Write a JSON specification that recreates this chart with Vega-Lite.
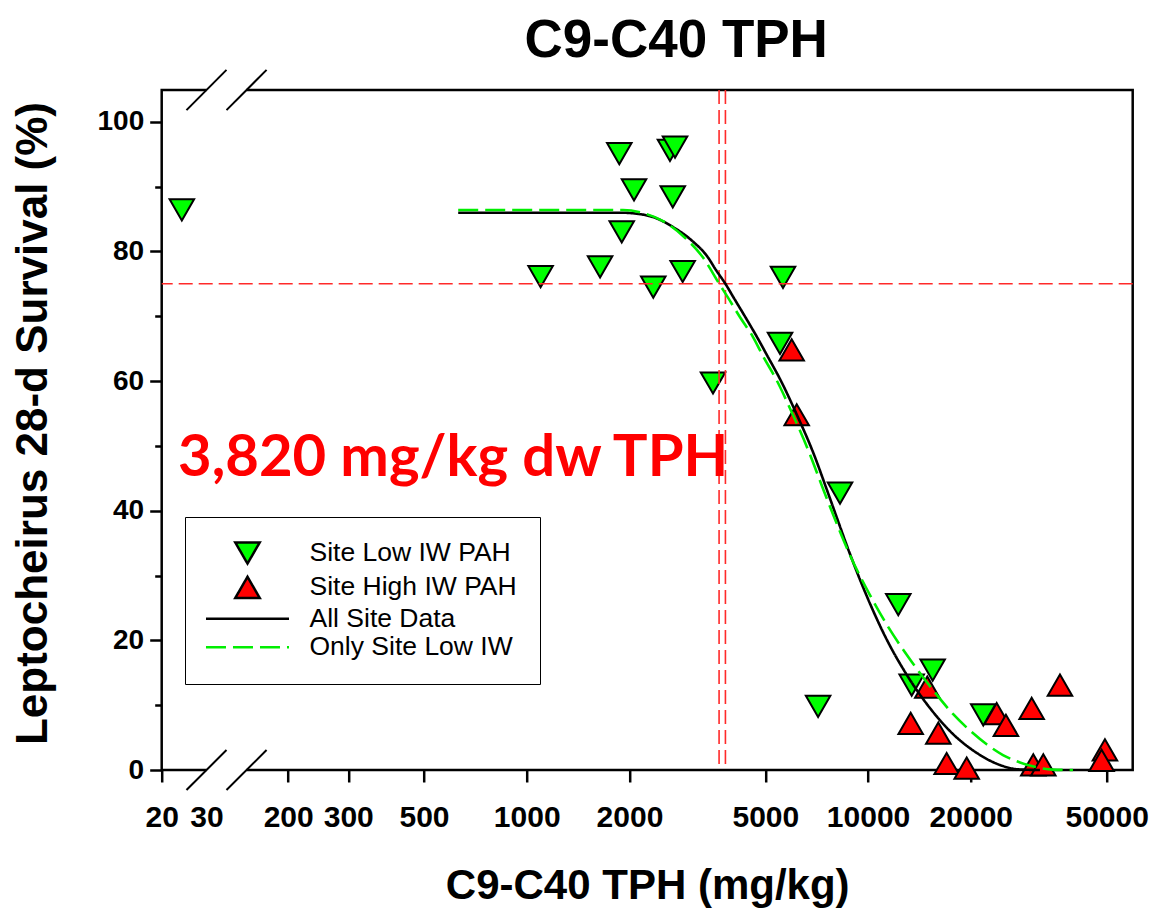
{
  "$schema": "https://vega.github.io/schema/vega-lite/v6.json",
  "width": 971,
  "height": 680,
  "autosize": {"type": "none"},
  "padding": {"left": 161.7, "top": 90, "right": 20.3, "bottom": 138},
  "background": "white",
  "title": {"text": "C9-C40 TPH", "font": "Liberation Sans", "fontWeight": "bold", "fontSize": 53, "color": "black", "anchor": "middle", "dx": 29, "dy": 23, "offset": 24},
  "config": {"view": {"stroke": "black", "strokeWidth": 2.5}, "font": "Liberation Sans"},
  "datasets": {
    "points": [
      {"series": "Site Low IW PAH", "tph": 24, "survival": 86.4},
      {"series": "Site Low IW PAH", "tph": 1098, "survival": 76.1},
      {"series": "Site Low IW PAH", "tph": 1640, "survival": 77.6},
      {"series": "Site Low IW PAH", "tph": 1867, "survival": 95.1},
      {"series": "Site Low IW PAH", "tph": 1898, "survival": 83.0},
      {"series": "Site Low IW PAH", "tph": 2062, "survival": 89.5},
      {"series": "Site Low IW PAH", "tph": 2348, "survival": 74.5},
      {"series": "Site Low IW PAH", "tph": 2628, "survival": 95.6},
      {"series": "Site Low IW PAH", "tph": 2719, "survival": 96.1},
      {"series": "Site Low IW PAH", "tph": 2678, "survival": 88.4},
      {"series": "Site Low IW PAH", "tph": 2863, "survival": 76.9},
      {"series": "Site Low IW PAH", "tph": 3513, "survival": 59.7},
      {"series": "Site Low IW PAH", "tph": 5521, "survival": 65.8},
      {"series": "Site Low IW PAH", "tph": 5633, "survival": 76.0},
      {"series": "Site Low IW PAH", "tph": 8275, "survival": 42.7},
      {"series": "Site Low IW PAH", "tph": 7138, "survival": 9.8},
      {"series": "Site Low IW PAH", "tph": 12260, "survival": 25.5},
      {"series": "Site Low IW PAH", "tph": 13420, "survival": 13.1},
      {"series": "Site Low IW PAH", "tph": 15460, "survival": 15.4},
      {"series": "Site Low IW PAH", "tph": 21750, "survival": 8.5},
      {"series": "Site High IW PAH", "tph": 5973, "survival": 64.8},
      {"series": "Site High IW PAH", "tph": 6179, "survival": 54.8},
      {"series": "Site High IW PAH", "tph": 14910, "survival": 12.8},
      {"series": "Site High IW PAH", "tph": 13330, "survival": 7.2},
      {"series": "Site High IW PAH", "tph": 16060, "survival": 5.7},
      {"series": "Site High IW PAH", "tph": 16990, "survival": 1.0},
      {"series": "Site High IW PAH", "tph": 19450, "survival": 0.3},
      {"series": "Site High IW PAH", "tph": 23810, "survival": 8.7},
      {"series": "Site High IW PAH", "tph": 25340, "survival": 6.9},
      {"series": "Site High IW PAH", "tph": 30150, "survival": 9.5},
      {"series": "Site High IW PAH", "tph": 36490, "survival": 13.1},
      {"series": "Site High IW PAH", "tph": 30480, "survival": 0.8},
      {"series": "Site High IW PAH", "tph": 32610, "survival": 0.8},
      {"series": "Site High IW PAH", "tph": 49420, "survival": 3.1},
      {"series": "Site High IW PAH", "tph": 48320, "survival": 1.5}
    ],
    "curves": [
      {"series": "All Site Data", "tph": 629.8, "survival": 85.96},
      {"series": "All Site Data", "tph": 1915, "survival": 85.96},
      {"series": "All Site Data", "tph": 2120, "survival": 85.79},
      {"series": "All Site Data", "tph": 2344, "survival": 85.3},
      {"series": "All Site Data", "tph": 2683, "survival": 83.76},
      {"series": "All Site Data", "tph": 3069, "survival": 81.52},
      {"series": "All Site Data", "tph": 3374, "survival": 79.28},
      {"series": "All Site Data", "tph": 3585, "survival": 77.12},
      {"series": "All Site Data", "tph": 3820, "survival": 75.0},
      {"series": "All Site Data", "tph": 4020, "survival": 73.04},
      {"series": "All Site Data", "tph": 4360, "survival": 69.95},
      {"series": "All Site Data", "tph": 4727, "survival": 66.79},
      {"series": "All Site Data", "tph": 5091, "survival": 63.71},
      {"series": "All Site Data", "tph": 5521, "survival": 60.31},
      {"series": "All Site Data", "tph": 6190, "survival": 54.76},
      {"series": "All Site Data", "tph": 6896, "survival": 49.05},
      {"series": "All Site Data", "tph": 7578, "survival": 43.19},
      {"series": "All Site Data", "tph": 8107, "survival": 38.87},
      {"series": "All Site Data", "tph": 8851, "survival": 33.32},
      {"series": "All Site Data", "tph": 9662, "survival": 28.23},
      {"series": "All Site Data", "tph": 11360, "survival": 20.05},
      {"series": "All Site Data", "tph": 12993, "survival": 14.65},
      {"series": "All Site Data", "tph": 15177, "survival": 9.56},
      {"series": "All Site Data", "tph": 17731, "survival": 5.55},
      {"series": "All Site Data", "tph": 20840, "survival": 2.62},
      {"series": "All Site Data", "tph": 24340, "survival": 0.77},
      {"series": "All Site Data", "tph": 27860, "survival": 0.08},
      {"series": "All Site Data", "tph": 31880, "survival": 0},
      {"series": "Only Site Low IW", "tph": 629.8, "survival": 86.38},
      {"series": "Only Site Low IW", "tph": 1915, "survival": 86.38},
      {"series": "Only Site Low IW", "tph": 2191, "survival": 85.92},
      {"series": "Only Site Low IW", "tph": 2508, "survival": 84.68},
      {"series": "Only Site Low IW", "tph": 2870, "survival": 82.37},
      {"series": "Only Site Low IW", "tph": 3285, "survival": 79.05},
      {"series": "Only Site Low IW", "tph": 3664, "survival": 75.0},
      {"series": "Only Site Low IW", "tph": 3887, "survival": 72.87},
      {"series": "Only Site Low IW", "tph": 4230, "survival": 69.72},
      {"series": "Only Site Low IW", "tph": 4585, "survival": 66.94},
      {"series": "Only Site Low IW", "tph": 4938, "survival": 63.71},
      {"series": "Only Site Low IW", "tph": 5374, "survival": 60.31},
      {"series": "Only Site Low IW", "tph": 6026, "survival": 54.76},
      {"series": "Only Site Low IW", "tph": 6713, "survival": 49.05},
      {"series": "Only Site Low IW", "tph": 7402, "survival": 43.19},
      {"series": "Only Site Low IW", "tph": 7972, "survival": 38.87},
      {"series": "Only Site Low IW", "tph": 8821, "survival": 33.32},
      {"series": "Only Site Low IW", "tph": 10129, "survival": 26.99},
      {"series": "Only Site Low IW", "tph": 11360, "survival": 22.37},
      {"series": "Only Site Low IW", "tph": 12993, "survival": 17.74},
      {"series": "Only Site Low IW", "tph": 14183, "survival": 14.96},
      {"series": "Only Site Low IW", "tph": 15916, "survival": 11.57},
      {"series": "Only Site Low IW", "tph": 17731, "survival": 8.64},
      {"series": "Only Site Low IW", "tph": 19882, "survival": 6.09},
      {"series": "Only Site Low IW", "tph": 22300, "survival": 3.93},
      {"series": "Only Site Low IW", "tph": 24840, "survival": 2.31},
      {"series": "Only Site Low IW", "tph": 27860, "survival": 1.16},
      {"series": "Only Site Low IW", "tph": 31240, "survival": 0.42},
      {"series": "Only Site Low IW", "tph": 34800, "survival": 0.06},
      {"series": "Only Site Low IW", "tph": 39830, "survival": 0}
    ],
    "ec25": [{"tph": 3660}, {"tph": 3820}],
    "level": [{"survival": 75}]
  },
  "layer": [
    {
      "data": {"name": "points"},
      "mark": {"type": "point", "filled": true, "size": 600, "stroke": "black", "strokeWidth": 2, "opacity": 1},
      "encoding": {
        "x": {
          "field": "tph", "type": "quantitative",
          "scale": {"type": "log", "domain": [20, 30, 151, 59600], "range": [0, 44.8, 84.8, 971], "nice": false, "zero": false},
          "axis": {
            "values": [20, 30, 200, 300, 500, 1000, 2000, 5000, 10000, 20000, 50000],
            "format": "d", "domain": false, "grid": false,
            "tickSize": 12, "tickWidth": 2.5, "tickColor": "black",
            "tickOpacity": {"condition": {"test": "datum.value === 30", "value": 0}, "value": 1},
            "labelFont": "Liberation Sans", "labelFontWeight": "bold", "labelFontSize": 30, "labelColor": "black",
            "labelPadding": 20, "labelFlush": false, "labelOverlap": false,
            "title": "C9-C40 TPH (mg/kg)", "titleFont": "Liberation Sans", "titleFontWeight": "bold", "titleFontSize": 42, "titleColor": "black", "titlePadding": 33
          }
        },
        "y": {
          "field": "survival", "type": "quantitative",
          "scale": {"domain": [0, 104.9], "nice": false, "zero": false},
          "axis": {
            "values": [0, 10, 20, 30, 40, 50, 60, 70, 80, 90, 100],
            "labelExpr": "datum.value % 20 === 0 ? datum.label : ''",
            "domain": false, "grid": false,
            "tickSize": {"condition": {"test": "datum.value % 20 === 0", "value": 12}, "value": 7},
            "tickWidth": 2.5, "tickColor": "black",
            "labelFont": "Liberation Sans", "labelFontWeight": "bold", "labelFontSize": 28, "labelColor": "black", "labelPadding": 6,
            "title": "Leptocheirus 28-d Survival (%)", "titleFont": "Liberation Sans", "titleFontWeight": "bold", "titleFontSize": 44, "titleColor": "black", "titlePadding": 41, "titleY": 333
          }
        },
        "fill": {
          "field": "series", "type": "nominal",
          "scale": {"domain": ["Site Low IW PAH", "Site High IW PAH", "All Site Data", "Only Site Low IW"], "range": ["#00ff00", "#ff0000", "transparent", "transparent"]},
          "legend": {
            "title": null, "orient": "none", "legendX": 23.3, "legendY": 427,
            "padding": 22.5, "symbolOffset": 26.5, "labelOffset": 48.5, "rowPadding": 1.4,
            "symbolSize": 600, "symbolStrokeWidth": 2.5,
            "labelFont": "Liberation Sans", "labelFontSize": 26.5, "labelColor": "black", "labelLimit": 400,
            "strokeColor": "black", "fillColor": "white",
            "encode": {"legend": {"strokeWidth": {"value": 2}}}
          }
        },
        "shape": {
          "field": "series", "type": "nominal",
          "scale": {"domain": ["Site Low IW PAH", "Site High IW PAH", "All Site Data", "Only Site Low IW"], "range": ["triangle-down", "triangle-up", "M-3.39,0L3.39,0", "M-3.39,0L3.39,0"]},
          "legend": {
            "title": null, "orient": "none", "legendX": 23.3, "legendY": 427,
            "padding": 22.5, "symbolOffset": 26.5, "labelOffset": 48.5, "rowPadding": 1.4,
            "symbolSize": 600, "symbolStrokeWidth": 2.5,
            "labelFont": "Liberation Sans", "labelFontSize": 26.5, "labelColor": "black", "labelLimit": 400,
            "strokeColor": "black", "fillColor": "white",
            "encode": {"legend": {"strokeWidth": {"value": 2}}}
          }
        }
      }
    },
    {
      "data": {"name": "ec25"},
      "mark": {"type": "rule", "color": "#ff2a2a", "strokeWidth": 1.6, "strokeDash": [14, 6]},
      "encoding": {"x": {"field": "tph", "type": "quantitative"}}
    },
    {
      "data": {"name": "level"},
      "mark": {"type": "rule", "color": "#ff2a2a", "strokeWidth": 1.6, "strokeDash": [14, 6]},
      "encoding": {"y": {"field": "survival", "type": "quantitative"}}
    },
    {
      "data": {"name": "curves"},
      "mark": {"type": "line", "strokeWidth": 2.6, "interpolate": "monotone"},
      "encoding": {
        "x": {"field": "tph", "type": "quantitative"},
        "y": {"field": "survival", "type": "quantitative"},
        "stroke": {
          "field": "series", "type": "nominal",
          "scale": {"domain": ["Site Low IW PAH", "Site High IW PAH", "All Site Data", "Only Site Low IW"], "range": ["#000000", "#000000", "#000000", "#00ee00"]},
          "legend": {
            "title": null, "orient": "none", "legendX": 23.3, "legendY": 427,
            "padding": 22.5, "symbolOffset": 26.5, "labelOffset": 48.5, "rowPadding": 1.4,
            "symbolSize": 600, "symbolStrokeWidth": 2.5,
            "labelFont": "Liberation Sans", "labelFontSize": 26.5, "labelColor": "black", "labelLimit": 400,
            "strokeColor": "black", "fillColor": "white",
            "encode": {"legend": {"strokeWidth": {"value": 2}}}
          }
        },
        "strokeDash": {
          "field": "series", "type": "nominal",
          "scale": {"domain": ["Site Low IW PAH", "Site High IW PAH", "All Site Data", "Only Site Low IW"], "range": [[1, 0], [1, 0], [1, 0], [20, 7]]},
          "legend": {
            "title": null, "orient": "none", "legendX": 23.3, "legendY": 427,
            "padding": 22.5, "symbolOffset": 26.5, "labelOffset": 48.5, "rowPadding": 1.4,
            "symbolSize": 600, "symbolStrokeWidth": 2.5,
            "labelFont": "Liberation Sans", "labelFontSize": 26.5, "labelColor": "black", "labelLimit": 400,
            "strokeColor": "black", "fillColor": "white",
            "encode": {"legend": {"strokeWidth": {"value": 2}}}
          }
        }
      }
    },
    {
      "data": {"values": [{}]},
      "mark": {"type": "rule", "color": "white", "strokeWidth": 6},
      "encoding": {"x": {"datum": 30}, "x2": {"datum": 151}, "y": {"datum": 0}}
    },
    {
      "data": {"values": [{}]},
      "mark": {"type": "rule", "color": "white", "strokeWidth": 6},
      "encoding": {"x": {"datum": 30}, "x2": {"datum": 151}, "y": {"datum": 104.9}}
    },
    {
      "data": {"values": [{}]},
      "mark": {"type": "rule", "color": "black", "strokeWidth": 2},
      "encoding": {"x": {"datum": 25.03}, "x2": {"datum": 67.3}, "y": {"datum": -3.085}, "y2": {"datum": 3.085}}
    },
    {
      "data": {"values": [{}]},
      "mark": {"type": "rule", "color": "black", "strokeWidth": 2},
      "encoding": {"x": {"datum": 67.3}, "x2": {"datum": 172.9}, "y": {"datum": -3.085}, "y2": {"datum": 3.085}}
    },
    {
      "data": {"values": [{}]},
      "mark": {"type": "rule", "color": "black", "strokeWidth": 2},
      "encoding": {"x": {"datum": 25.03}, "x2": {"datum": 67.3}, "y": {"datum": 101.8}, "y2": {"datum": 108.0}}
    },
    {
      "data": {"values": [{}]},
      "mark": {"type": "rule", "color": "black", "strokeWidth": 2},
      "encoding": {"x": {"datum": 67.3}, "x2": {"datum": 172.9}, "y": {"datum": 101.8}, "y2": {"datum": 108.0}}
    },
    {
      "data": {"values": [{"label": "3,820 mg/kg dw TPH"}]},
      "mark": {"type": "text", "font": "Lato", "fontWeight": "bold", "fontSize": 58, "color": "#ff0000", "align": "left", "baseline": "alphabetic"},
      "encoding": {"x": {"datum": 23.2}, "y": {"datum": 45.3}, "text": {"field": "label"}}
    }
  ]
}
